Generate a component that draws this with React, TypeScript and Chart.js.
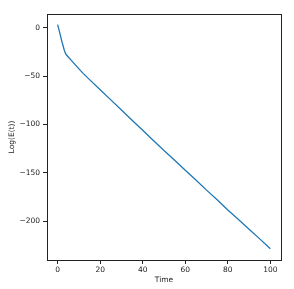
import React, { useEffect, useRef } from "react";
import { Chart, registerables } from "chart.js";

Chart.register(...registerables);

const times = [0, 1, 2, 3, 3.5, 4, 5, 6, 8, 10, 12, 15, 20, 25, 30, 35, 40, 45, 50, 55, 60, 65, 70, 75, 80, 85, 90, 95, 100];
const logE = [3.5, -5, -14, -22, -25.5, -27.5, -30, -32.5, -37.5, -42.3, -47, -53.5, -64, -74.5, -85, -95.5, -106, -116.5, -127, -137, -147.5, -157.5, -168, -178, -188.5, -198.5, -208.5, -218.5, -228.7];
const xTicks = [0, 20, 40, 60, 80, 100];
const yTicks = [0, -50, -100, -150, -200];
const xTitle = "Time";
const yTitle = "Log(E(t))";

const FONT = "'DejaVu Sans', sans-serif";

const framePlugin = {
  id: "frame",
  afterDraw(chart: any) {
    const { ctx, chartArea } = chart;
    ctx.save();
    ctx.strokeStyle = "#222";
    ctx.lineWidth = 1;
    ctx.strokeRect(
      Math.round(chartArea.left) + 0.5,
      Math.round(chartArea.top) + 0.5,
      Math.round(chartArea.right) - Math.round(chartArea.left),
      Math.round(chartArea.bottom) - Math.round(chartArea.top)
    );
    ctx.restore();
  },
};

export default function App() {
  const ref = useRef<HTMLCanvasElement | null>(null);
  useEffect(() => {
    if (!ref.current) return;
    const chart = new Chart(ref.current, {
      type: "line",
      data: {
        datasets: [
          {
            data: times.map((t, i) => ({ x: t, y: logE[i] })),
            borderColor: "#1f77b4",
            borderWidth: 1.3,
            pointRadius: 0,
            fill: false,
            tension: 0,
          },
        ],
      },
      options: {
        animation: false,
        responsive: false,
        devicePixelRatio: 1,
        layout: { padding: { left: 0, right: 13, top: 14, bottom: 0 } },
        plugins: { legend: { display: false }, tooltip: { enabled: false } },
        scales: {
          x: {
            type: "linear",
            min: -5,
            max: 105,
            afterFit(scale: any) {
              scale.height = 29;
            },
            afterBuildTicks(scale: any) {
              scale.ticks = xTicks.map((v) => ({ value: v }));
            },
            grid: { display: true, drawOnChartArea: false, tickLength: 4, tickColor: "#222", color: "#222" },
            border: { display: true, color: "#222", width: 1 },
            ticks: {
              padding: 2,
              maxRotation: 0,
              autoSkip: false,
              color: "#222",
              font: { family: FONT, size: 7.5 },
              callback: (v: any) => String(v).replace("-", "\u2212"),
            },
            title: {
              display: true,
              text: xTitle,
              color: "#222",
              font: { family: FONT, size: 7.5 },
              padding: { top: 0, bottom: 4 },
            },
          },
          y: {
            type: "linear",
            min: -240.4,
            max: 14.5,
            afterFit(scale: any) {
              scale.width = 47;
            },
            afterBuildTicks(scale: any) {
              scale.ticks = yTicks.map((v) => ({ value: v }));
            },
            grid: { display: true, drawOnChartArea: false, tickLength: 4, tickColor: "#222", color: "#222" },
            border: { display: true, color: "#222", width: 1 },
            ticks: {
              padding: 3,
              autoSkip: false,
              color: "#222",
              font: { family: FONT, size: 7.5 },
              callback: (v: any) => String(v).replace("-", "\u2212"),
            },
            title: {
              display: true,
              text: yTitle,
              color: "#222",
              font: { family: FONT, size: 7.5 },
              padding: { top: 8, bottom: 0 },
            },
          },
        },
      },
      plugins: [framePlugin],
    });
    return () => chart.destroy();
  }, []);
  return (
    <div style={{ position: "fixed", left: 0, top: 0, width: 294, height: 289, background: "#fff" }}>
      <canvas ref={ref} width={294} height={289} style={{ display: "block", width: 294, height: 289 }} />
    </div>
  );
}
